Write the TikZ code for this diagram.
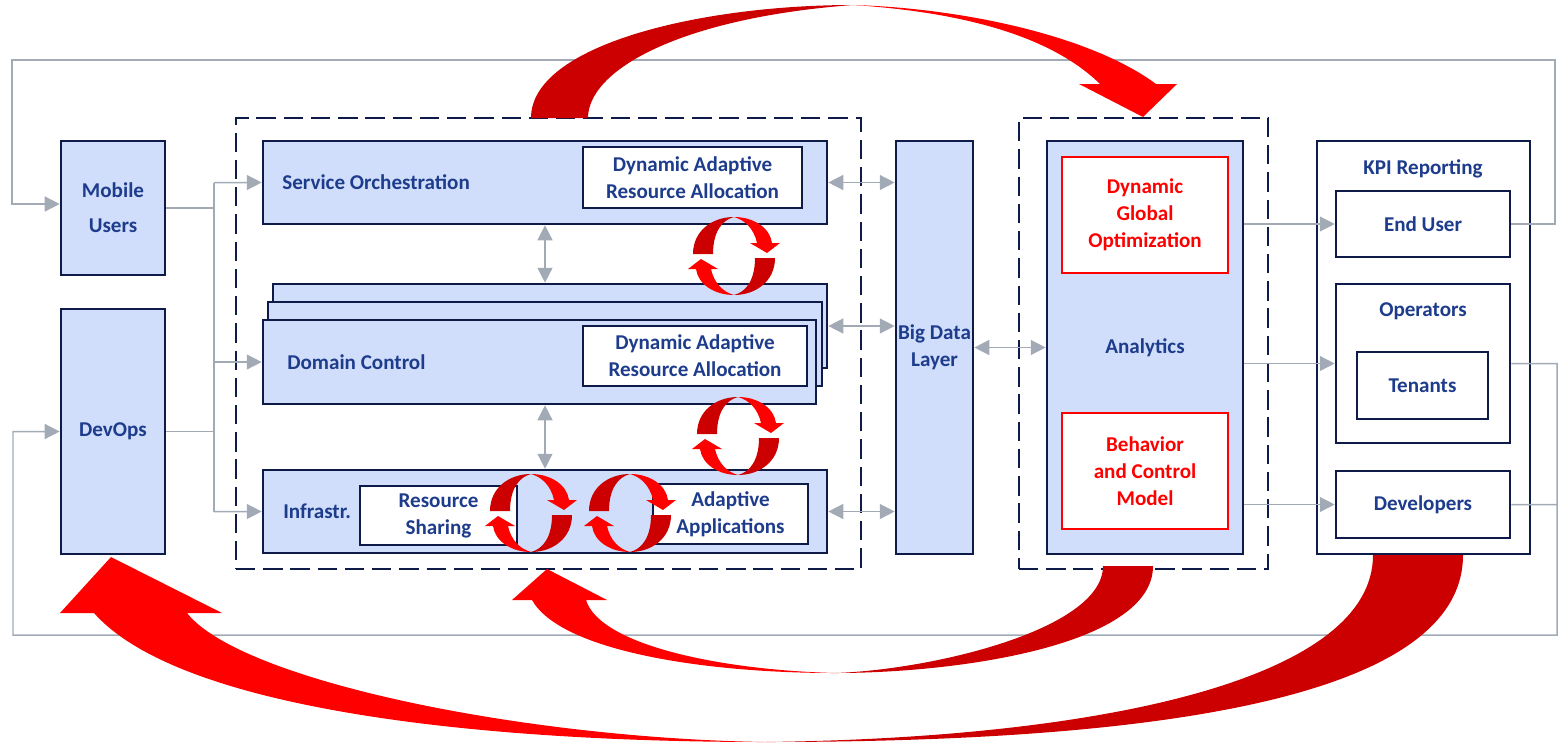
\documentclass[tikz,border=0pt]{standalone}
\usepackage{fontspec}
\setmainfont{Carlito}
\usetikzlibrary{arrows.meta,fit}

\definecolor{navy}{HTML}{0E1B48}
\definecolor{txtblue}{HTML}{1E3C8C}
\definecolor{paleblue}{HTML}{D0DEFB}
\definecolor{greyln}{HTML}{A2AAB5}
\definecolor{redlt}{HTML}{FF0000}
\definecolor{reddk}{HTML}{CC0000}

\tikzset{
  box/.style={draw=navy, line width=1.5pt, fill=paleblue, inner sep=0pt},
  wbox/.style={box, fill=white},
  rbox/.style={draw=redlt, line width=1.5pt, fill=white, inner sep=0pt},
  dbox/.style={draw=navy, line width=1.5pt, dash pattern=on 11pt off 4.5pt, inner sep=0pt},
  txt/.style={align=center, inner sep=0pt},
  rtxt/.style={txt, text=redlt},
  gline/.style={draw=greyln, line width=0.85pt},
  garrow/.style={gline, -{Triangle[length=8.5pt,width=8.5pt]}},
  gdbl/.style={gline, {Triangle[length=8.5pt,width=8.5pt]}-{Triangle[length=8.5pt,width=8.5pt]}},
  spin/.pic={
    \foreach \r in {0,180}{
      \begin{scope}[rotate=\r]
        \fill[reddk] (-41,-2) .. controls (-41,-25) and (-22,-39) .. (0,-39)
          .. controls (-12,-36) and (-21,-24) .. (-21,-2) -- cycle;
        \fill[redlt] (0,-39) .. controls (20,-39) and (36,-28) .. (38,-13)
          -- (46,-13) -- (33,-3) -- (16,-13) -- (23,-13)
          .. controls (20,-27) and (11,-36) .. (0,-39) -- cycle;
      \end{scope}}
  }
}

\begin{document}
\begin{tikzpicture}[x=0.02cm, y=-0.02cm, text=txtblue,
  font=\bfseries\fontsize{12}{15.3}\selectfont]
\useasboundingbox (0,0) rectangle (1558,744);

% users side
\node[box, fit={(61,141) (165,275)}] (mobile) {};
\node[txt] (mobiletxt) at (mobile) {Mobile\\[4.5pt]Users};
\node[box, fit={(61,309) (165,554)}] (devops) {};
\node[txt] (devopstxt) at (devops) {DevOps};

% control layers
\node[dbox, fit={(236,118) (861,569)}] (core) {};
\node[box, fit={(263,141) (827,224)}] (so) {};
\node[anchor=west, inner sep=0pt] (solbl) at (282,182.5) {Service Orchestration};
\node[wbox, fit={(583,147) (802,208)}] (dara1) {};
\node[txt] (dara1txt) at (dara1) {Dynamic Adaptive\\Resource Allocation};

\node[box, fit={(273,284) (827,368)}] (dc3) {};
\node[box, fit={(268,302) (822,386)}] (dc2) {};
\node[box, fit={(263,320) (816,404)}] (dc) {};
\node[anchor=west, inner sep=0pt] (dclbl) at (287,362) {Domain Control};
\node[wbox, fit={(583,326) (807,386)}] (dara2) {};
\node[txt] (dara2txt) at (dara2) {Dynamic Adaptive\\Resource Allocation};

\node[box, fit={(263,470) (827,553)}] (infra) {};
\node[anchor=west, inner sep=0pt] (inlbl) at (283,511.5) {Infrastr.};
\node[wbox, fit={(360,486) (517,545)}] (share) {};
\node[txt] (sharetxt) at (share) {Resource\\Sharing};
\node[wbox, fit={(653,484) (808,544)}] (adapt) {};
\node[txt] (adapttxt) at (adapt) {Adaptive\\Applications};

\node[box, fit={(896,141) (973,554)}] (bdl) {};
\node[txt] (bdltxt) at (bdl) {Big Data\\Layer};

% analytics
\node[dbox, fit={(1019,118) (1268,569)}] (anacore) {};
\node[box, fit={(1047,141) (1243,554)}] (ana) {};
\node[txt] (anatxt) at (ana) {Analytics};
\node[rbox, fit={(1062,157) (1228,273)}] (dgo) {};
\node[rtxt] (dgotxt) at (dgo) {Dynamic\\Global\\Optimization};
\node[rbox, fit={(1062,413) (1228,529)}] (bcm) {};
\node[rtxt] (bcmtxt) at (bcm) {Behavior\\and Control\\Model};

% KPI
\node[wbox, fit={(1317,141) (1530,554)}] (kpi) {};
\node[txt] (kpilbl) at (1423,169) {KPI Reporting};
\node[wbox, fit={(1336,191) (1510,257)}] (endu) {};
\node[txt] (endutxt) at (endu) {End User};
\node[wbox, fit={(1336,284) (1510,443)}] (oper) {};
\node[txt] (operlbl) at (1423,311) {Operators};
\node[wbox, fit={(1357,352) (1488,419)}] (ten) {};
\node[txt] (tentxt) at (ten) {Tenants};
\node[wbox, fit={(1336,471) (1510,538)}] (devs) {};
\node[txt] (devstxt) at (devs) {Developers};

% grey connectors
\coordinate (busT) at (214,182.5);
\coordinate (busB) at (214,511.5);
\draw[gline] (busT) -- (busB);
\draw[gline] (mobile.east) -- (mobile.east -| busT);
\draw[gline] (devops.east) -- (devops.east -| busT);
\draw[garrow] (busT) -- (so.west);
\draw[garrow] (busT |- dc.west) -- (dc.west);
\draw[garrow] (busB) -- (infra.west);

\draw[gdbl] (so.south) -- (so.south |- dc3.north);
\draw[gdbl] (infra.north) -- (infra.north |- dc.south);
\draw[gdbl] (so.east) -- (so.east -| bdl.west);
\draw[gdbl] (dc3.east) -- (dc3.east -| bdl.west);
\draw[gdbl] (infra.east) -- (infra.east -| bdl.west);
\draw[gdbl] (bdl.east) -- (ana.west);

\draw[garrow] (ana.east |- endu) -- (endu.west);
\draw[garrow] (ana.east |- oper) -- (oper.west);
\draw[garrow] (ana.east |- devs) -- (devs.west);

% feedback loops
\coordinate (fbT) at (12,204);
\coordinate (fbB) at (13,431.5);
\draw[garrow] (endu.east) -| (1555,60) -| (fbT) -- (fbT -| mobile.west);
\draw[garrow] (oper.east) -| (1557,635) -| (fbB) -- (devops.west);
\draw[gline] (devs.east) -- (1557,504.5);

% local loops
\pic (c1) at (734,256) {spin};
\pic (c2) at (738,436) {spin};
\pic (c3) at (531,513) {spin};
\pic (c4) at (630,513) {spin};

% big red arrows
\fill[reddk] (531,118) .. controls (531,45) and (700,5) .. (853,5)
  .. controls (680,18) and (588,70) .. (588,118) -- cycle;
\fill[redlt] (853,5) .. controls (960,8) and (1090,35) .. (1156,84)
  -- (1177,84) -- (1143,117) -- (1079,84) -- (1100,84)
  .. controls (1050,35) and (960,12) .. (853,5) -- cycle;

\fill[reddk] (1153,566) .. controls (1153,645) and (960,673) .. (835,673)
  .. controls (930,670) and (1103,630) .. (1103,566) -- cycle;
\fill[redlt] (835,673) .. controls (700,673) and (560,650) .. (532,600)
  -- (512,600) -- (547,569) -- (607,600) -- (586,600)
  .. controls (600,645) and (720,670) .. (835,673) -- cycle;

\fill[reddk] (1463,555) .. controls (1463,700) and (1150,742) .. (765,742)
  .. controls (1100,738) and (1373,680) .. (1373,555) -- cycle;
\fill[redlt] (765,742) .. controls (480,742) and (180,710) .. (94,613)
  -- (60,613) -- (111,557) -- (222,613) -- (187,613)
  .. controls (240,680) and (520,738) .. (765,742) -- cycle;

\end{tikzpicture}
\end{document}
